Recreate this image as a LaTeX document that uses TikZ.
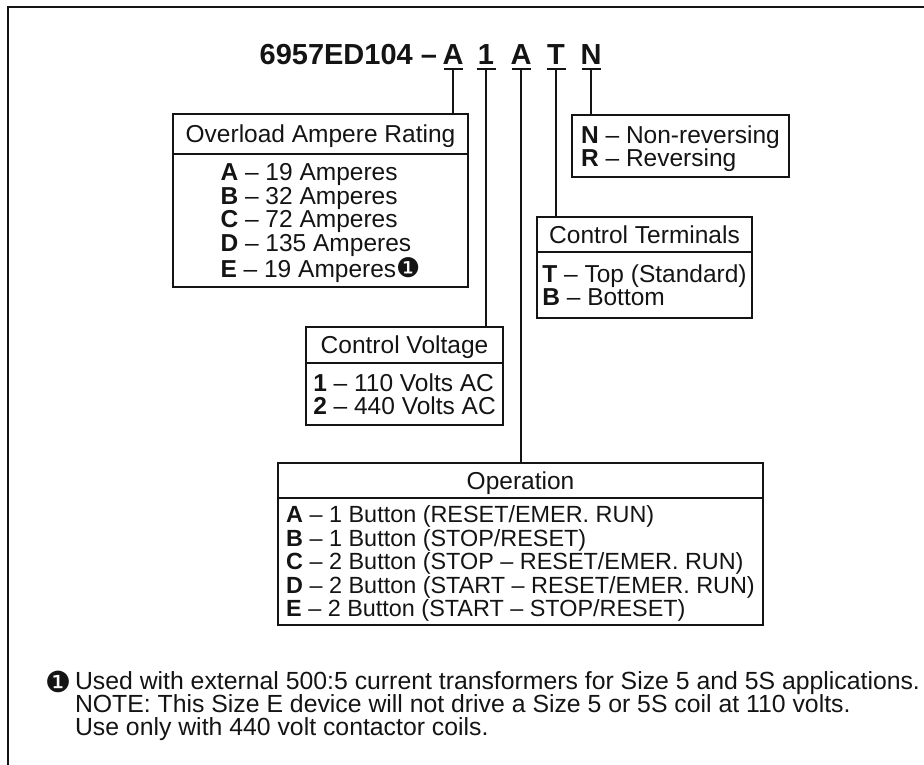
\documentclass[tikz,border=0pt]{standalone}
\usepackage{fontspec}
\setmainfont{Liberation Sans}
\newfontfamily\symfont{DejaVu Sans}
\usepackage{xcolor}
\usetikzlibrary{positioning}
\definecolor{ordink}{RGB}{20,20,20}
\newcommand{\fnmark}{{\symfont\fontsize{27}{23}\selectfont ❶}}

\begin{document}
\begin{tikzpicture}[x=1pt, y=-1pt,
  every node/.style={inner sep=0pt, outer sep=0pt, text=ordink},
  txt/.style={font=\fontsize{24.5}{23.5}\selectfont},
  head/.style={txt, draw=ordink, line width=1.5pt, anchor=north west, align=center, text depth=0pt},
  body/.style={txt, draw=ordink, line width=1.5pt, align=left, text depth=0pt},
  code/.style={font=\fontsize{29}{30}\selectfont\bfseries, text depth=0pt, inner ysep=4pt},
  tick/.style={draw=ordink, line width=2pt},
  wire/.style={draw=ordink, line width=1.5pt},
  foot/.style={font=\fontsize{24.8}{23.2}\selectfont, align=left},
]
\useasboundingbox (0,0) rectangle (924,765);
\draw[ordink, line width=2.2pt] (924,7) -- (8,7) -- (8,765);

% catalogue number
\node[code, anchor=base east] (code) at (437,65) {6957ED104 –};
\node[code, anchor=base] (selA) at (453,65) {A};
\node[code, anchor=base] (selV) at (486,65) {1};
\node[code, anchor=base] (selO) at (521,65) {A};
\node[code, anchor=base] (selT) at (556,65) {T};
\node[code, anchor=base] (selN) at (591,65) {N};
\foreach \s in {selA,selV,selO,selT,selN}
  \draw[tick] ([xshift=-9.5pt]\s.south) -- ([xshift=9.5pt]\s.south);

% option boxes
\node[head, minimum width=295pt, minimum height=40pt] (ovlhead) at (173,114) {Overload Ampere Rating};
\node[body, below=0pt of ovlhead, minimum width=295pt, minimum height=133pt] (ovl)
  {\textbf{A} – 19 Amperes\\\textbf{B} – 32 Amperes\\\textbf{C} – 72 Amperes\\
   \textbf{D} – 135 Amperes\\\textbf{E} – 19 Amperes\fnmark};

\node[body, anchor=north west, minimum width=217pt, minimum height=62pt] (dir) at (572,115)
  {\textbf{N} – Non-reversing\\\textbf{R} – Reversing};

\node[head, minimum width=215pt, minimum height=35pt] (termhead) at (537,217) {Control Terminals};
\node[body, below=0pt of termhead, minimum width=215pt, minimum height=66pt] (term)
  {\textbf{T} – Top (Standard)\\\textbf{B} – Bottom};

\node[head, minimum width=197pt, minimum height=36pt] (volthead) at (306,327) {Control Voltage};
\node[body, below=0pt of volthead, minimum width=197pt, minimum height=62pt] (volt)
  {\textbf{1} – 110 Volts AC\\\textbf{2} – 440 Volts AC};

\node[head, minimum width=485pt, minimum height=35pt] (operhead) at (278,463) {Operation};
\node[body, below=0pt of operhead, font=\fontsize{23.4}{23.5}\selectfont,
      minimum width=485pt, minimum height=127pt] (oper)
  {\textbf{A} – 1 Button (RESET/EMER. RUN)\\\textbf{B} – 1 Button (STOP/RESET)\\
   \textbf{C} – 2 Button (STOP – RESET/EMER. RUN)\\\textbf{D} – 2 Button (START – RESET/EMER. RUN)\\
   \textbf{E} – 2 Button (START – STOP/RESET)};

% leaders
\draw[wire] (selA.south) -- (selA.south |- ovlhead.north);
\draw[wire] (selV.south) -- (selV.south |- volthead.north);
\draw[wire] (selO.south) -- (selO.south |- operhead.north);
\draw[wire] (selT.south) -- (selT.south |- termhead.north);
\draw[wire] (selN.south) -- (selN.south |- dir.north);

% footnote
\node[font=\symfont\fontsize{29}{29}\selectfont] (fnsym) at (58,682) {❶};
\node[foot, anchor=west] (foot) at (75,706)
  {Used with external 500:5 current transformers for Size 5 and 5S applications.\\
   NOTE: This Size E device will not drive a Size 5 or 5S coil at 110 volts.\\
   Use only with 440 volt contactor coils.};
\end{tikzpicture}
\end{document}
